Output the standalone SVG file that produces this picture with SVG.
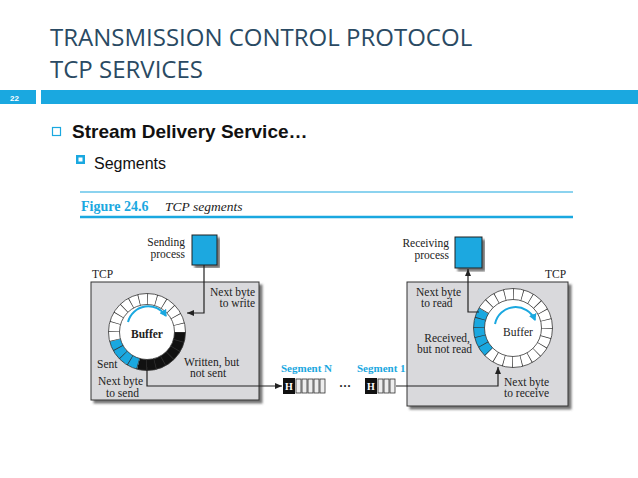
<svg xmlns="http://www.w3.org/2000/svg" width="638" height="478" viewBox="0 0 638 478">
<style>
.t{font-family:"Liberation Serif",serif;font-size:11.5px;fill:#222}
.h{font-family:"Open Sans","Liberation Sans",sans-serif;fill:#2a4a63}
.ln{stroke:#222;stroke-width:1.2;fill:none}
.seg{font-family:"Liberation Serif",serif;font-weight:bold;font-size:11px;fill:#1aa8e0}
</style>
<defs>
<marker id="ar" markerWidth="8" markerHeight="8" refX="7" refY="4" orient="auto" markerUnits="userSpaceOnUse"><path d="M0,1 L7,4 L0,7 Z" fill="#222"/></marker>
<marker id="ab" markerWidth="8" markerHeight="8" refX="6" refY="4" orient="auto" markerUnits="userSpaceOnUse"><path d="M0,0 L7,4 L0,8 Z" fill="#1aa8e0"/></marker>
<filter id="sh"><feDropShadow dx="3" dy="3" stdDeviation="1" flood-color="#555" flood-opacity="0.8"/></filter>
</defs>
<rect width="638" height="478" fill="#fff"/>
<g id="title">
<text class="h" x="50" y="46" font-size="24">TRANSMISSION CONTROL PROTOCOL</text>
<text class="h" x="50" y="78" font-size="24">TCP SERVICES</text>
<rect x="0" y="90" width="36" height="14" fill="#1aa8e0"/>
<text x="10" y="101" font-family="Liberation Sans,sans-serif" font-size="8" font-weight="bold" fill="#fff">22</text>
<rect x="41" y="90" width="597" height="14" fill="#1aa8e0"/>
<rect x="52.5" y="127.5" width="8" height="8" fill="none" stroke="#1aa8e0" stroke-width="1.2"/>
<text x="72" y="138" font-family="Liberation Sans,sans-serif" font-weight="bold" font-size="19" fill="#111">Stream Delivery Service…</text>
<rect x="76" y="155" width="9" height="9" fill="#1aa8e0"/><rect x="78.5" y="157.5" width="4" height="4" fill="#fff"/>
<text x="94" y="169" font-family="Liberation Sans,sans-serif" font-size="16" fill="#111">Segments</text>
</g>
<g id="figure-caption">
<line x1="80" y1="192" x2="573" y2="192" stroke="#1aa8e0" stroke-width="1.2"/>
<text x="81" y="211" font-family="Liberation Serif,serif" font-weight="bold" font-size="14" fill="#1aa8e0">Figure 24.6</text>
<text x="165" y="211" font-family="Liberation Serif,serif" font-style="italic" font-size="13.5" fill="#222">TCP segments</text>
<line x1="80" y1="217" x2="573" y2="217" stroke="#1aa8e0" stroke-width="2.5"/>
</g>
<g id="sender">
<rect x="91" y="282" width="168" height="118" fill="#d9d9dc" stroke="#333" filter="url(#sh)"/>
<text class="t" x="92" y="278" font-size="12">TCP</text>
<rect x="192" y="235" width="25" height="30" fill="#1aa8e0" stroke="#222" filter="url(#sh)"/>
<text class="t" x="185" y="246" text-anchor="end">Sending</text>
<text class="t" x="185" y="258" text-anchor="end">process</text>
<circle cx="147" cy="332" r="33" fill="#fff" stroke="#fff" stroke-width="11"/>
<circle cx="147" cy="332" r="33" fill="none" stroke="#111" stroke-width="11" stroke-dasharray="69.1 300" stroke-dashoffset="8.64"/>
<circle cx="147" cy="332" r="33" fill="none" stroke="#1aa8e0" stroke-width="11" stroke-dasharray="34.56 300" stroke-dashoffset="-60.5"/>
<circle cx="147" cy="332" r="33" fill="none" stroke="#333" stroke-width="11" stroke-dasharray="0.7 7.94"/>
<circle cx="147" cy="332" r="38.5" fill="none" stroke="#333" stroke-width="0.8"/>
<circle cx="147" cy="332" r="27.5" fill="none" stroke="#333" stroke-width="0.8"/>
<path d="M128,322 A21,21 0 0 1 166,316" fill="none" stroke="#1aa8e0" stroke-width="2" marker-end="url(#ab)"/>
<text class="t" x="147" y="338" text-anchor="middle" font-weight="bold" font-size="12">Buffer</text>
<text class="t" x="255" y="296" text-anchor="end">Next byte</text>
<text class="t" x="255" y="307" text-anchor="end">to write</text>
<text class="t" x="184" y="366">Written, but</text>
<text class="t" x="190" y="377">not sent</text>
<text class="t" x="97" y="368">Sent</text>
<text class="t" x="98" y="385">Next byte</text>
<text class="t" x="106" y="397">to send</text>
</g>
<g id="receiver">
<rect x="407" y="282" width="161" height="124" fill="#d9d9dc" stroke="#333" filter="url(#sh)"/>
<text class="t" x="545" y="278" font-size="12">TCP</text>
<rect x="455" y="237" width="27" height="31" fill="#1aa8e0" stroke="#222" filter="url(#sh)"/>
<text class="t" x="449" y="247" text-anchor="end">Receiving</text>
<text class="t" x="449" y="259" text-anchor="end">process</text>
<circle cx="513" cy="328" r="34" fill="#fff" stroke="#fff" stroke-width="11"/>
<circle cx="513" cy="328" r="34" fill="none" stroke="#1aa8e0" stroke-width="11" stroke-dasharray="44.5 300" stroke-dashoffset="-80.1"/>
<circle cx="513" cy="328" r="34" fill="none" stroke="#333" stroke-width="11" stroke-dasharray="0.7 8.2"/>
<circle cx="513" cy="328" r="39.5" fill="none" stroke="#333" stroke-width="0.8"/>
<circle cx="513" cy="328" r="28.5" fill="none" stroke="#333" stroke-width="0.8"/>
<path d="M495,324 A21,21 0 0 1 535,320" fill="none" stroke="#1aa8e0" stroke-width="2" marker-end="url(#ab)"/>
<text class="t" x="518" y="336" text-anchor="middle" font-size="12">Buffer</text>
<text class="t" x="416" y="296">Next byte</text>
<text class="t" x="421" y="307">to read</text>
<text class="t" x="470" y="342" text-anchor="end">Received,</text>
<text class="t" x="472" y="353" text-anchor="end">but not read</text>
<text class="t" x="504" y="386">Next byte</text>
<text class="t" x="504" y="397">to receive</text>
</g>
<g id="segments">
<text class="seg" x="281" y="372">Segment N</text>
<rect x="283" y="378" width="12" height="16" fill="#111"/>
<text x="289" y="390" text-anchor="middle" font-family="Liberation Serif,serif" font-weight="bold" font-size="10" fill="#fff">H</text>
<g fill="#eee" stroke="#333" stroke-width="0.8">
<rect x="296" y="379" width="5" height="14"/><rect x="302" y="379" width="5" height="14"/><rect x="308" y="379" width="5" height="14"/><rect x="314" y="379" width="5" height="14"/><rect x="320" y="379" width="5" height="14"/>
</g>
<text x="339" y="390" font-family="Liberation Serif,serif" font-weight="bold" font-size="12" fill="#222">···</text>
<text class="seg" x="357" y="372">Segment 1</text>
<rect x="365" y="378" width="12" height="16" fill="#111"/>
<text x="371" y="390" text-anchor="middle" font-family="Liberation Serif,serif" font-weight="bold" font-size="10" fill="#fff">H</text>
<g fill="#eee" stroke="#333" stroke-width="0.8">
<rect x="378" y="379" width="5" height="14"/><rect x="384" y="379" width="5" height="14"/><rect x="390" y="379" width="5" height="14"/>
</g>
</g>
<g id="connectors">
<path class="ln" d="M204,265 V313 H187" marker-end="url(#ar)"/>
<path class="ln" d="M147,367 V386 H282" marker-end="url(#ar)"/>
<path class="ln" d="M396,386 H498 V367" marker-end="url(#ar)"/>
<path class="ln" d="M479,312 H468 V269" marker-end="url(#ar)"/>
</g>
</svg>
